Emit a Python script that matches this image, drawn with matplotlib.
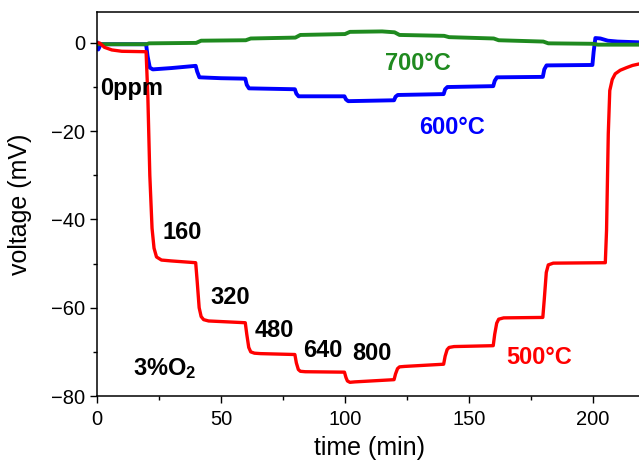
import numpy as np
import matplotlib
matplotlib.use("Agg")
import matplotlib.pyplot as plt
from matplotlib.ticker import MultipleLocator

plt.rcParams['font.family'] = ['Liberation Sans', 'DejaVu Sans']
plt.rcParams['mathtext.default'] = 'regular'

# 500 C run (red)
t_500 = [0, 1, 3, 6, 10, 19.8, 20.5, 21.3, 22.2, 23, 24, 26, 30, 39.8,
         40.4, 41.2, 42, 43, 45, 59.8, 60.4, 61.2, 62, 63.5, 66, 79.8,
         80.4, 81.2, 82, 84, 99.8, 100.4, 101, 102, 104, 119.8, 120.4, 121.2,
         122, 124, 139.8, 140.4, 141.2, 142, 144, 159.8, 160.4, 161.2, 162, 164,
         179.8, 180.4, 181.2, 182, 184, 205, 205.5, 206.2, 206.8, 207.8, 209,
         211, 213.6, 216, 220]
v_500 = [0, 0, -1, -1.6, -1.9, -2, -12, -30, -42, -46.5, -48.5, -49.2, -49.4, -49.8,
         -54, -60, -62, -62.7, -63, -63.4, -66, -69, -70, -70.3, -70.4, -70.6,
         -72.5, -74, -74.4, -74.5, -74.6, -75.8, -76.6, -76.9, -76.8, -76.3, -75, -73.8,
         -73.4, -73.3, -72.8, -71, -69.5, -69, -68.8, -68.6, -66, -63.5, -62.6, -62.3,
         -62.2, -58, -52, -50.3, -49.9, -49.8, -42.5, -20.6, -10.8, -8.3, -7,
         -6.2, -5.6, -5.1, -4.6]

# 600 C run (blue)
t_600 = [0, 0.5, 1.5, 19.8, 20.4, 21.3, 22.5, 30, 39.8, 40.4, 41.3, 50, 59.8,
         60.4, 61.3, 79.8, 80.4, 81.3, 99.8, 100.4, 101.3, 119.8, 120.4, 121.3,
         139.8, 140.4, 141.3, 159.8, 160.4, 161.3, 179.8, 180.4, 181.3, 199.8,
         200.3, 201, 203, 206, 210, 220]
v_600 = [0, -1.5, -0.3, -0.3, -3, -5.6, -6, -5.7, -5.2, -6.5, -7.8, -8, -8.1,
         -9.5, -10.3, -10.5, -11.5, -12.1, -12.1, -12.8, -13.2, -13, -12.2, -11.8,
         -11.6, -10.5, -10, -9.8, -8.6, -7.8, -7.7, -6, -5.1, -5,
         -2, 1.1, 1.0, 0.5, 0.3, 0.1]

# 700 C run (green)
t_700 = [0, 20, 21, 40, 42, 60, 62, 80, 82, 100, 102, 115, 120, 122, 140,
         142, 160, 162, 180, 182, 200, 202, 220]
v_700 = [-0.3, -0.3, -0.1, 0.0, 0.5, 0.6, 1.0, 1.2, 1.8, 2.0, 2.5, 2.6, 2.4,
         1.8, 1.6, 1.3, 1.0, 0.6, 0.3, -0.1, -0.2, -0.4, -0.4]

conc_labels = ['0ppm', '160', '320', '480', '640', '800']
conc_pos = [(1.2, -10.4), (26.6, -43), (45.6, -57.7), (63.7, -65.2),
            (83, -69.7), (102.8, -70.4)]

red = '#ff0000'
blue = '#0000ff'
green = '#1f8a1f'

fig = plt.figure(figsize=(6.39, 4.62), dpi=100)
ax = fig.add_axes([97/639, 66/462, 545/639, 384/462])

ax.plot(t_600, v_600, color=blue, lw=2.8)
ax.plot(t_700, v_700, color=green, lw=2.8)
ax.plot(t_500, v_500, color=red, lw=2.4)

ax.set_xlim(0, 219.8)
ax.set_ylim(-80, 7)
ax.xaxis.set_major_locator(MultipleLocator(50))
ax.xaxis.set_minor_locator(MultipleLocator(25))
ax.yaxis.set_major_locator(MultipleLocator(20))
ax.yaxis.set_minor_locator(MultipleLocator(10))
ax.tick_params(which='both', direction='out', labelsize=14.5, width=1)
ax.tick_params(which='major', length=5)
ax.tick_params(which='minor', length=3)
ax.tick_params(axis='x', pad=5)
ax.spines['right'].set_visible(False)
for s in ['left', 'bottom', 'top']:
    ax.spines[s].set_linewidth(1.1)

ax.set_xlabel('time (min)', fontsize=18, labelpad=5)
ax.set_ylabel('voltage (mV)', fontsize=18, labelpad=14)

fs = 17
for lab, (x, y) in zip(conc_labels, conc_pos):
    ax.text(x, y, lab, fontsize=fs, fontweight='bold', ha='left', va='center')
ax.text(14.5, -73.7, '3%O$_2$', fontsize=fs, fontweight='bold', ha='left', va='center')

ax.text(116, -4.7, '700°C', color=green, fontsize=fs, fontweight='bold',
        ha='left', va='center')
ax.text(130, -19.2, '600°C', color=blue, fontsize=fs, fontweight='bold',
        ha='left', va='center')
ax.text(165, -71.3, '500°C', color=red, fontsize=fs, fontweight='bold',
        ha='left', va='center')

fig.savefig('out.png', dpi=100)
